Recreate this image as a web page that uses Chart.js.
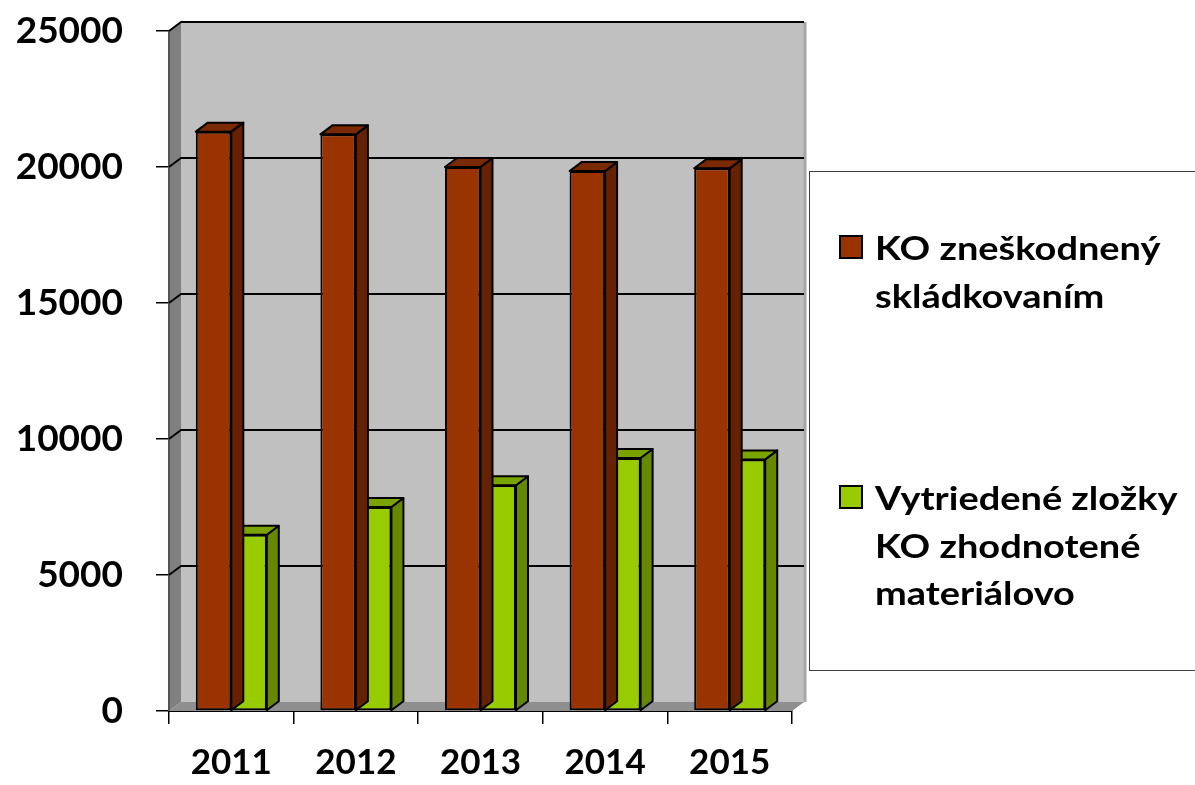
<!DOCTYPE html>
<html>
<head>
<meta charset="utf-8">
<script src="https://cdn.jsdelivr.net/npm/chart.js@4"></script>
<style>
    html, body { margin: 0; padding: 0; background: #fff; }
    #wrap { width: 1195px; height: 785px; position: relative; }
</style>
</head>
<body>
<div id="wrap"><canvas id="chart"></canvas></div>
<script>
// Data
const years = ['2011', '2012', '2013', '2014', '2015'];
const landfilled = [21300, 21200, 20000, 19850, 19950];
const recovered = [6480, 7500, 8300, 9300, 9250];
const seriesLines = [
    ['KO zneškodnený', 'skládkovaním'],
    ['Vytriedené zložky', 'KO zhodnotené', 'materiálovo'],
];
const yTicks = [0, 5000, 10000, 15000, 20000, 25000];

// faces of each series: front, top, side
const SHADES = [
    { front: '#993300', top: '#7a2900', side: '#662200' },
    { front: '#99cc00', top: '#7aa300', side: '#668800' },
];
const DX = 12, DY = -9;   // depth offset of the 3D box
const FONT = 'Lato, "Open Sans", sans-serif';

// walls, floor and back gridlines
const walls = {
    id: 'walls',
    beforeDatasetsDraw(chart) {
        const { ctx, chartArea: a, scales: { y } } = chart;
        ctx.save();
        // back wall
        ctx.fillStyle = '#c0c0c0';
        ctx.fillRect(a.left + DX, a.top + DY, a.right - a.left, a.bottom - a.top);
        ctx.strokeStyle = '#a6a6a6';
        ctx.lineWidth = 3;
        ctx.beginPath();
        ctx.moveTo(a.right + DX + 1, a.top + DY);
        ctx.lineTo(a.right + DX + 1, a.bottom + DY);
        ctx.stroke();
        // left wall
        ctx.fillStyle = '#808080';
        ctx.beginPath();
        ctx.moveTo(a.left, a.top);
        ctx.lineTo(a.left + DX, a.top + DY);
        ctx.lineTo(a.left + DX, a.bottom + DY);
        ctx.lineTo(a.left, a.bottom);
        ctx.closePath();
        ctx.fill();
        ctx.strokeStyle = '#555';
        ctx.lineWidth = 2;
        ctx.beginPath();
        ctx.moveTo(a.left, a.top);
        ctx.lineTo(a.left, a.bottom);
        ctx.stroke();
        // floor
        ctx.fillStyle = '#8f8f8f';
        ctx.beginPath();
        ctx.moveTo(a.left, a.bottom);
        ctx.lineTo(a.left + DX, a.bottom + DY);
        ctx.lineTo(a.right + DX, a.bottom + DY);
        ctx.lineTo(a.right, a.bottom);
        ctx.closePath();
        ctx.fill();
        // gridlines on the left and back walls
        ctx.strokeStyle = '#000';
        ctx.lineWidth = 2;
        ctx.lineJoin = 'round';
        yTicks.slice(1).forEach(v => {
            const py = y.getPixelForValue(v);
            ctx.beginPath();
            ctx.moveTo(a.left, py);
            ctx.lineTo(a.left + DX, py + DY);
            ctx.lineTo(a.right + DX, py + DY);
            ctx.stroke();
        });
        ctx.restore();
    },
    // top and side faces, drawn just before each series' front faces
    beforeDatasetDraw(chart, args) {
        const { ctx } = chart;
        const shade = SHADES[args.index];
        ctx.save();
        ctx.strokeStyle = '#000';
        ctx.lineWidth = 2;
        ctx.lineJoin = 'round';
        args.meta.data.forEach(el => {
            const l = el.x - el.width / 2, r = el.x + el.width / 2;
            const t = el.y, b = el.base;
            ctx.fillStyle = shade.side;
            ctx.beginPath();
            ctx.moveTo(r, t);
            ctx.lineTo(r + DX, t + DY);
            ctx.lineTo(r + DX, b + DY);
            ctx.lineTo(r, b);
            ctx.closePath();
            ctx.fill();
            ctx.stroke();
            ctx.fillStyle = shade.top;
            ctx.beginPath();
            ctx.moveTo(l, t);
            ctx.lineTo(l + DX, t + DY);
            ctx.lineTo(r + DX, t + DY);
            ctx.lineTo(r, t);
            ctx.closePath();
            ctx.fill();
            ctx.stroke();
        });
        ctx.restore();
    },
};

// boxed legend with wrapped names
const boxLegend = {
    id: 'boxLegend',
    afterDraw(chart) {
        const { ctx } = chart;
        ctx.save();
        ctx.strokeStyle = '#404040';
        ctx.lineWidth = 1;
        ctx.strokeRect(809.5, 171.5, 400, 499);
        const starts = [260, 510];
        chart.data.datasets.forEach((ds, i) => {
            const base = starts[i];
            ctx.fillStyle = ds.backgroundColor;
            ctx.fillRect(840, base - 24, 22, 22);
            ctx.strokeStyle = '#000';
            ctx.lineWidth = 2;
            ctx.strokeRect(840, base - 24, 22, 22);
            ctx.fillStyle = '#000';
            ctx.font = `bold 33px ${FONT}`;
            ctx.textBaseline = 'alphabetic';
            seriesLines[i].forEach((line, k) => {
                ctx.save();
                ctx.translate(875, base + k * 47.5);
                ctx.scale(1.15, 1);   // reference text is wide and low
                ctx.fillText(line, 0, 0);
                ctx.restore();
            });
        });
        ctx.restore();
    },
};

new Chart(document.getElementById('chart'), {
    type: 'bar',
    data: {
        labels: years,
        datasets: [
            {
                label: seriesLines[0].join(' '),
                data: landfilled,
                backgroundColor: SHADES[0].front,
                borderColor: '#000',
                borderWidth: 2,
                borderSkipped: false,
            },
            {
                label: seriesLines[1].join(' '),
                data: recovered,
                backgroundColor: SHADES[1].front,
                borderColor: '#000',
                borderWidth: 2,
                borderSkipped: false,
            },
        ],
    },
    options: {
        responsive: true,
        maintainAspectRatio: false,
        animation: false,
        categoryPercentage: 0.57,
        barPercentage: 1.0,
        layout: { padding: { left: 0, right: 403, top: 31, bottom: 0 } },
        plugins: {
            legend: { display: false },
            tooltip: { enabled: false },
        },
        scales: {
            x: {
                afterFit: (s) => { s.height = 74; s.paddingLeft = 0; s.paddingRight = 0; },
                grid: { drawOnChartArea: false, color: '#000', lineWidth: 1.5, tickLength: 13 },
                border: { display: true, color: '#000', width: 2 },
                ticks: { color: '#000', font: { family: FONT, size: 35, weight: 'bold' }, padding: 18 },
            },
            y: {
                min: 0,
                max: 25000,
                afterFit: (s) => { s.width = 169; s.paddingTop = 0; s.paddingBottom = 0; },
                grid: { drawOnChartArea: false, color: '#000', lineWidth: 1.5, tickLength: 13 },
                border: { display: false },
                ticks: {
                    stepSize: 5000,
                    color: '#000',
                    padding: 33,
                    font: { family: FONT, size: 37, weight: 'bold' },
                    callback: (v) => String(v),
                },
            },
        },
    },
    plugins: [walls, boxLegend],
});
</script>
</body>
</html>
